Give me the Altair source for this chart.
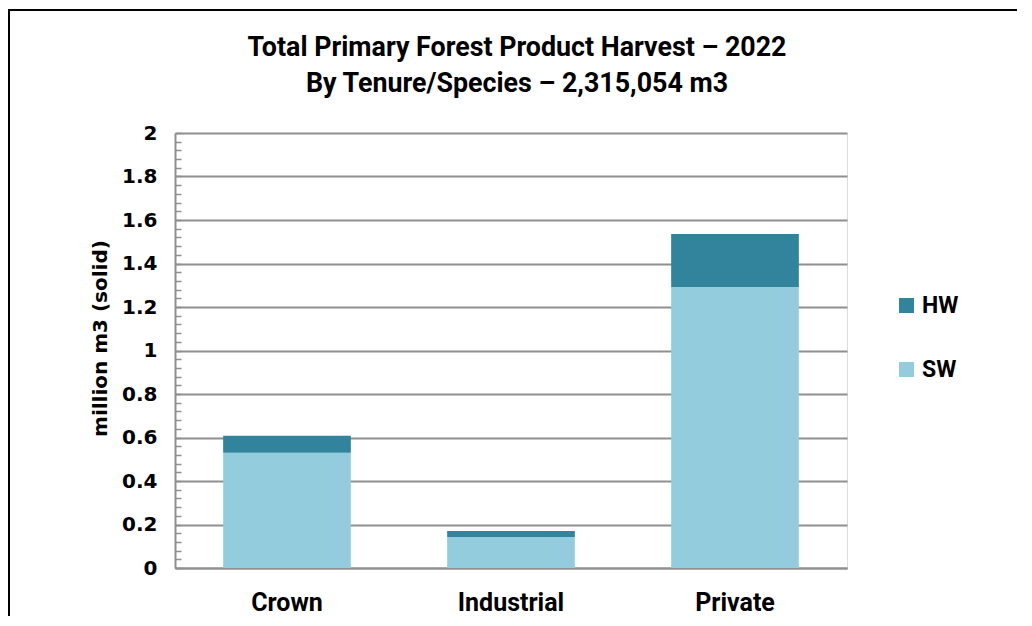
import altair as alt
import pandas as pd

tenures = ["Crown", "Industrial", "Private"]
sw_values = [0.530, 0.143, 1.292]
hw_values = [0.078, 0.027, 0.244]
species = ["HW", "SW"]
colors = ["#31849B", "#93CDDD"]
major_ticks = [0, 0.2, 0.4, 0.6, 0.8, 1.0, 1.2, 1.4, 1.6, 1.8, 2.0]
minor_ticks = [round(i * 0.04, 2) for i in range(51)]
title_lines = ["Total Primary Forest Product Harvest – 2022",
               "By Tenure/Species – 2,315,054 m3"]

rows = []
for t, s, h in zip(tenures, sw_values, hw_values):
    rows.append({"tenure": t, "species": "SW", "value": s, "ord": 0})
    rows.append({"tenure": t, "species": "HW", "value": h, "ord": 1})
df = pd.DataFrame(rows)

FONT = "Roboto"
YFONT = "DejaVu Sans"
GRID = "#8f8f8f"

bars = alt.Chart(df).mark_bar().encode(
    x=alt.X("tenure:N", sort=tenures,
            scale=alt.Scale(paddingInner=0.43, paddingOuter=0.215),
            axis=alt.Axis(title=None, labelAngle=0, ticks=False, labelPadding=22,
                          labelFont=FONT, labelFontSize=25, labelFontWeight="bold",
                          labelColor="#000000", domainColor=GRID, domainWidth=2)),
    y=alt.Y("value:Q", stack="zero", scale=alt.Scale(domain=[0, 2], nice=False),
            axis=alt.Axis(title="million m3 (solid)", values=major_ticks, format="~g",
                          ticks=False, labelPadding=18, labelFont=YFONT, labelFontSize=20,
                          labelFontWeight="bold", labelColor="#000000",
                          domainColor=GRID, domainWidth=2, gridColor=GRID, gridWidth=2,
                          titleFont=YFONT, titleFontSize=20, titleFontWeight="bold",
                          titleColor="#000000", titleX=-75, titleY=205,
                          titleAngle=-90, titleAlign="center", titleBaseline="middle")),
    color=alt.Color("species:N", scale=alt.Scale(domain=species, range=colors),
                    legend=alt.Legend(title=None, orient="none", legendX=720, legendY=161,
                                      symbolType="square", symbolSize=225,
                                      symbolStrokeWidth=0, labelFont=FONT,
                                      labelFontSize=23, labelFontWeight="bold",
                                      labelColor="#000000", rowPadding=40,
                                      labelOffset=4)),
    order=alt.Order("ord:Q"),
)

minor = alt.Chart(df).mark_point(opacity=0).encode(
    y=alt.Y("value:Q", scale=alt.Scale(domain=[0, 2], nice=False),
            axis=alt.Axis(orient="right", offset=-672, values=minor_ticks, labels=False,
                          domain=False, grid=False, tickSize=6, tickColor=GRID,
                          tickWidth=1.5, title=None)),
)

one = pd.DataFrame({"a": [0]})

frame = alt.Chart(one).mark_rect(
    filled=False, stroke="#000000", strokeWidth=2
).encode(x=alt.value(-166), x2=alt.value(1200), y=alt.value(-123), y2=alt.value(900))

title1 = alt.Chart(one).mark_text(
    font=FONT, fontSize=26.8, fontWeight="bold", color="#000000",
    align="center", baseline="alphabetic"
).encode(x=alt.value(342), y=alt.value(-77), text=alt.value(title_lines[0]))

title2 = alt.Chart(one).mark_text(
    font=FONT, fontSize=26.8, fontWeight="bold", color="#000000",
    align="center", baseline="alphabetic"
).encode(x=alt.value(342), y=alt.value(-41), text=alt.value(title_lines[1]))

chart = alt.layer(frame, title1, title2, bars, minor).resolve_scale(y="independent").properties(
    width=672,
    height=435,
    autosize=alt.AutoSizeParams(type="none"),
    padding={"left": 167, "top": 125, "right": 170, "bottom": 48},
).configure_view(stroke=None).configure(background="white")

chart.save("out.html", embed_options={"renderer": "svg", "actions": False})
